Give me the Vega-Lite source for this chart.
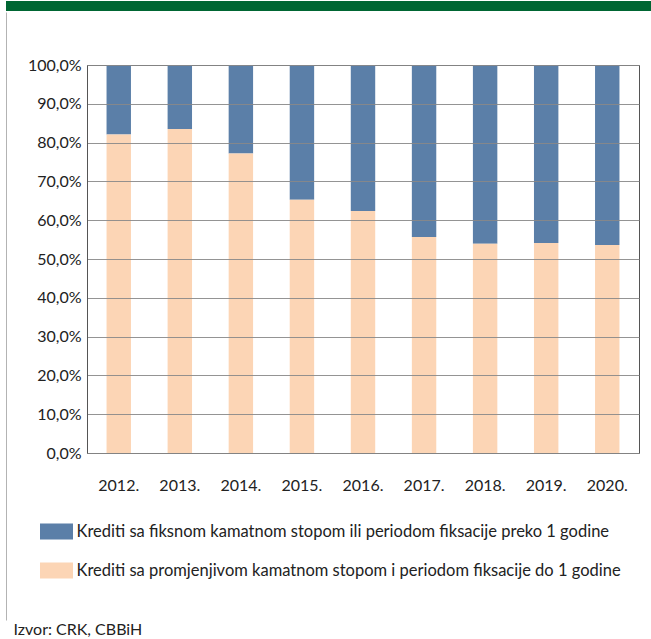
{
  "$schema": "https://vega.github.io/schema/vega-lite/v6.json",
  "padding": {"left": 5, "top": 0, "right": 0, "bottom": 0},
  "spacing": 0,
  "columns": 1,
  "config": {"font": "Lato", "view": {"stroke": null}},
  "concat": [
    {
      "width": 646,
      "height": 10,
      "data": {"values": [{"k": 1}]},
      "mark": {"type": "rule", "opacity": 0},
      "encoding": {},
      "view": {"fill": "#006633", "stroke": null}
    },
    {
      "width": 646,
      "height": 627,
      "view": {"stroke": "#b3b3b3", "strokeWidth": 1, "strokeDash": [0, 1938, 608, 3000], "fill": "white"},
      "data": {"values": [
        {"year": "2012.", "type": "Krediti sa fiksnom kamatnom stopom ili periodom fiksacije preko 1 godine", "value": 17.9},
        {"year": "2012.", "type": "Krediti sa promjenjivom kamatnom stopom i periodom fiksacije do 1 godine", "value": 82.1},
        {"year": "2013.", "type": "Krediti sa fiksnom kamatnom stopom ili periodom fiksacije preko 1 godine", "value": 16.5},
        {"year": "2013.", "type": "Krediti sa promjenjivom kamatnom stopom i periodom fiksacije do 1 godine", "value": 83.5},
        {"year": "2014.", "type": "Krediti sa fiksnom kamatnom stopom ili periodom fiksacije preko 1 godine", "value": 22.8},
        {"year": "2014.", "type": "Krediti sa promjenjivom kamatnom stopom i periodom fiksacije do 1 godine", "value": 77.2},
        {"year": "2015.", "type": "Krediti sa fiksnom kamatnom stopom ili periodom fiksacije preko 1 godine", "value": 34.7},
        {"year": "2015.", "type": "Krediti sa promjenjivom kamatnom stopom i periodom fiksacije do 1 godine", "value": 65.3},
        {"year": "2016.", "type": "Krediti sa fiksnom kamatnom stopom ili periodom fiksacije preko 1 godine", "value": 37.6},
        {"year": "2016.", "type": "Krediti sa promjenjivom kamatnom stopom i periodom fiksacije do 1 godine", "value": 62.4},
        {"year": "2017.", "type": "Krediti sa fiksnom kamatnom stopom ili periodom fiksacije preko 1 godine", "value": 44.3},
        {"year": "2017.", "type": "Krediti sa promjenjivom kamatnom stopom i periodom fiksacije do 1 godine", "value": 55.7},
        {"year": "2018.", "type": "Krediti sa fiksnom kamatnom stopom ili periodom fiksacije preko 1 godine", "value": 46.1},
        {"year": "2018.", "type": "Krediti sa promjenjivom kamatnom stopom i periodom fiksacije do 1 godine", "value": 53.9},
        {"year": "2019.", "type": "Krediti sa fiksnom kamatnom stopom ili periodom fiksacije preko 1 godine", "value": 45.9},
        {"year": "2019.", "type": "Krediti sa promjenjivom kamatnom stopom i periodom fiksacije do 1 godine", "value": 54.1},
        {"year": "2020.", "type": "Krediti sa fiksnom kamatnom stopom ili periodom fiksacije preko 1 godine", "value": 46.4},
        {"year": "2020.", "type": "Krediti sa promjenjivom kamatnom stopom i periodom fiksacije do 1 godine", "value": 53.6}
      ]},
      "resolve": {"axis": {"x": "independent", "y": "independent"}},
      "layer": [
        {
          "mark": {"type": "bar"},
          "encoding": {
            "x": {
              "field": "year", "type": "nominal",
              "scale": {"paddingInner": 0.6, "paddingOuter": 0.32, "range": [81, 633]},
              "axis": {
                "orient": "bottom", "offset": -186,
                "labelAngle": 0, "ticks": false, "labelPadding": 24, "domainColor": "#555", "labelFontSize": 16, "labelColor": "#222",
                "title": "Izvor: CRK, CBBiH", "titleX": 7, "titleY": 181, "titleAlign": "left", "titleAnchor": null, "titleBaseline": "alphabetic",
                "titleFontSize": 16, "titleFontWeight": "normal", "titleColor": "#222"
              }
            },
            "y": {
              "field": "value", "type": "quantitative", "stack": "zero",
              "scale": {"domain": [0, 100], "range": [441, 53]},
              "axis": {
                "orient": "left", "offset": -81, "title": null,
                "values": [0, 10, 20, 30, 40, 50, 60, 70, 80, 90, 100],
                "labelExpr": "replace(format(datum.value, '.1f'), '.', ',') + '%'",
                "ticks": false, "labelPadding": 6, "grid": true, "gridColor": "#888", "gridOpacity": 0.9,
                "domainColor": "#555", "zindex": 1, "labelFontSize": 16, "labelColor": "#222"
              }
            },
            "color": {
              "field": "type", "type": "nominal",
              "scale": {
                "domain": ["Krediti sa fiksnom kamatnom stopom ili periodom fiksacije preko 1 godine", "Krediti sa promjenjivom kamatnom stopom i periodom fiksacije do 1 godine"],
                "range": ["#5b7fa8", "#fcd5b5"]
              },
              "legend": {
                "title": null, "orient": "none", "legendX": 34, "legendY": 514, "padding": 0,
                "direction": "vertical",
                "symbolType": "M-1,-0.485H1V0.485H-1Z", "symbolSize": 1089, "symbolStrokeWidth": 0, "symbolOpacity": 1,
                "labelFontSize": 16.5, "labelOffset": 3.5, "rowPadding": 14, "labelLimit": 700, "labelColor": "#222"
              }
            },
            "order": {"field": "type", "sort": "descending"}
          }
        },
        {
          "mark": {"type": "bar", "opacity": 0},
          "encoding": {
            "x": {
              "field": "year", "type": "nominal",
              "axis": {"orient": "top", "offset": -53, "labels": false, "ticks": false, "title": null, "domainColor": "#555"}
            },
            "y": {
              "field": "value", "type": "quantitative", "stack": "zero",
              "axis": {"orient": "right", "offset": -13, "labels": false, "ticks": false, "grid": false, "title": null, "domainColor": "#555"}
            }
          }
        }
      ]
    }
  ]
}
